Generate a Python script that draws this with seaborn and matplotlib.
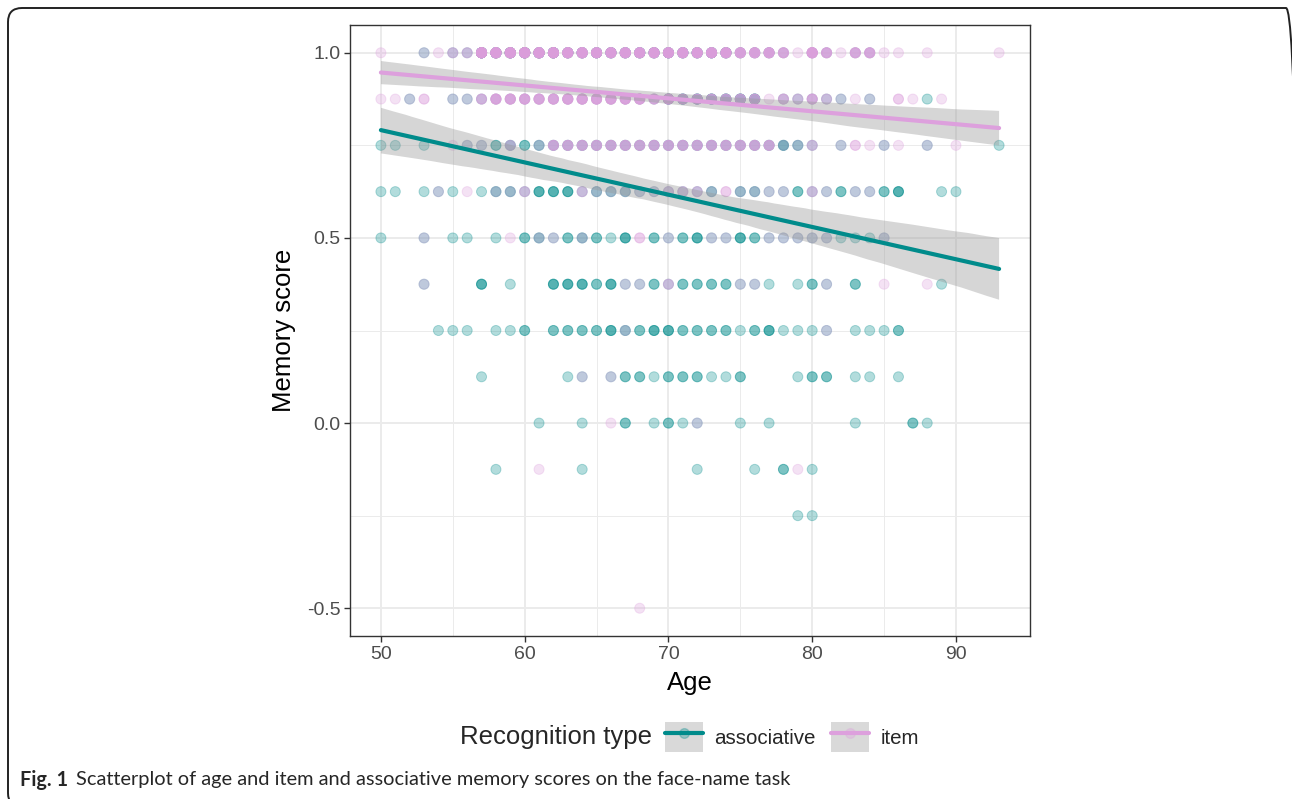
import numpy as np
import pandas as pd
import seaborn as sns
import matplotlib.pyplot as plt
from matplotlib.patches import Rectangle, FancyBboxPatch
from matplotlib.lines import Line2D
from matplotlib.legend_handler import HandlerTuple

# memory scores come in steps of 1/8, one row of ages per score level
levels = [1.0, 0.875, 0.75, 0.625, 0.5, 0.375, 0.25, 0.125, 0.0, -0.125, -0.25, -0.5]

# associative recognition: ages per level and how many dots sit on each spot
# (many of the high scores are hidden under the item dots)
assoc_ages = [
    [53, 55, 56, 57, 58, 59, 60, 61, 62, 63, 64, 65, 66, 67, 68, 69, 70, 71, 72, 73, 74, 75, 76, 77, 78, 80,
     81, 83, 84],
    [52, 55, 56, 57, 58, 59, 60, 61, 62, 63, 64, 65, 66, 67, 68, 69, 70, 71, 72, 73, 74, 75, 76, 78, 79, 80,
     81, 82, 84, 88],
    [50, 51, 53, 56, 57, 58, 59, 60, 61, 62, 63, 64, 65, 66, 67, 68, 69, 70, 71, 72, 73, 74, 75, 76, 77, 78,
     79, 80, 82, 85, 88, 93],
    [50, 51, 53, 54, 55, 57, 58, 59, 60, 61, 62, 63, 64, 65, 66, 67, 68, 69, 70, 71, 72, 73, 75, 76, 77, 78,
     79, 80, 81, 82, 83, 84, 85, 86, 89, 90],
    [50, 53, 55, 56, 58, 60, 61, 62, 63, 64, 65, 66, 67, 69, 70, 71, 72, 73, 74, 75, 76, 77, 78, 79, 80, 81,
     82, 83, 84, 85],
    [53, 57, 59, 62, 63, 64, 65, 66, 67, 68, 69, 70, 71, 72, 73, 74, 75, 76, 77, 79, 80, 81, 83, 89],
    [54, 55, 56, 58, 59, 60, 62, 63, 64, 65, 66, 67, 68, 69, 70, 71, 72, 73, 74, 75, 76, 77, 78, 79, 80, 81,
     83, 84, 85, 86],
    [57, 63, 64, 66, 67, 68, 69, 70, 71, 72, 73, 74, 75, 79, 80, 81, 83, 84, 86],
    [61, 64, 67, 69, 70, 71, 72, 75, 77, 83, 87, 88],
    [58, 64, 72, 76, 78, 80],
    [79, 80],
    [],
]
assoc_n = [
    [1, 1, 1, 8, 8, 8, 8, 8, 8, 5, 5, 5, 5, 5, 5, 5, 5, 5, 5, 5, 5, 2, 2, 2, 1, 1,
     1, 1, 1],
    [1, 1, 1, 1, 1, 1, 1, 1, 1, 1, 1, 1, 1, 1, 1, 1, 4, 4, 4, 4, 4, 4, 4, 1, 1, 1,
     1, 1, 1, 1],
    [1, 1, 1, 1, 1, 2, 2, 2, 2, 2, 2, 2, 2, 2, 2, 2, 2, 2, 2, 2, 2, 2, 2, 2, 2, 3,
     2, 1, 1, 1, 1, 1],
    [1, 1, 1, 1, 1, 1, 2, 2, 1, 3, 3, 3, 1, 2, 2, 2, 1, 1, 1, 1, 1, 2, 2, 2, 1, 1,
     2, 1, 1, 2, 1, 1, 2, 3, 1, 1],
    [1, 1, 1, 1, 1, 2, 2, 1, 2, 2, 2, 1, 3, 2, 1, 2, 3, 1, 1, 3, 2, 1, 1, 1, 1, 1,
     1, 1, 1, 1],
    [1, 3, 1, 3, 3, 3, 2, 3, 1, 1, 2, 1, 2, 2, 2, 2, 1, 1, 1, 1, 2, 1, 2, 1],
    [1, 1, 1, 1, 1, 2, 2, 2, 2, 2, 3, 2, 2, 3, 3, 2, 2, 2, 2, 1, 2, 3, 1, 1, 1, 1,
     1, 1, 1, 2],
    [1, 1, 1, 1, 2, 2, 1, 2, 2, 2, 1, 1, 2, 1, 2, 2, 1, 1, 1],
    [1, 1, 2, 1, 2, 1, 1, 1, 1, 1, 2, 1],
    [1, 1, 1, 1, 2, 1],
    [1, 1],
    [],
]

# item recognition
item_ages = [
    [50, 53, 54, 55, 56, 57, 58, 59, 60, 61, 62, 63, 64, 65, 66, 67, 68, 69, 70, 71, 72, 73, 74, 75, 76, 77,
     78, 79, 80, 81, 82, 83, 84, 85, 86, 88, 93],
    [50, 51, 52, 53, 55, 56, 57, 58, 59, 60, 61, 62, 63, 64, 65, 66, 67, 68, 69, 70, 71, 72, 73, 74, 75, 76,
     77, 78, 79, 80, 81, 82, 83, 84, 86, 87, 89],
    [55, 56, 57, 59, 61, 62, 63, 64, 65, 66, 67, 68, 69, 70, 71, 72, 73, 74, 75, 76, 77, 78, 79, 80, 82, 83,
     84, 85, 86, 88, 90],
    [54, 56, 58, 59, 60, 64, 65, 66, 67, 68, 69, 70, 71, 72, 73, 74, 75, 76, 77, 78, 80, 81, 83, 84],
    [53, 59, 61, 62, 64, 68, 70, 73, 74, 77, 78, 79, 80, 81, 85],
    [53, 67, 68, 70, 75, 76, 81, 85, 88],
    [67, 81],
    [64, 66],
    [66, 72],
    [61, 79],
    [],
    [68],
]
item_n = [
    [1, 1, 1, 2, 2, 20, 20, 20, 20, 20, 20, 16, 16, 12, 12, 12, 12, 12, 12, 12, 12, 12, 12, 8, 8, 8,
     5, 1, 12, 5, 1, 5, 5, 1, 1, 1, 1],
    [1, 1, 1, 2, 1, 1, 3, 6, 6, 6, 6, 6, 7, 7, 7, 7, 7, 7, 4, 6, 4, 4, 4, 4, 4, 4,
     1, 3, 2, 4, 2, 1, 1, 1, 2, 1, 1],
    [1, 1, 1, 2, 1, 4, 4, 4, 4, 4, 4, 4, 4, 4, 4, 4, 4, 4, 4, 4, 4, 1, 1, 2, 1, 2,
     1, 1, 1, 1, 1],
    [1, 1, 1, 1, 2, 2, 1, 1, 1, 1, 1, 2, 2, 2, 1, 2, 1, 1, 1, 1, 2, 1, 1, 1],
    [1, 1, 1, 1, 1, 2, 1, 1, 1, 1, 1, 1, 1, 1, 1],
    [1, 1, 1, 2, 1, 1, 1, 1, 1],
    [1, 1],
    [1, 1],
    [1, 1],
    [1, 1],
    [],
    [1],
]

group_names = ["associative", "item"]
group_colors = {"associative": "#008B8B", "item": "#DDA0DD"}

rows = []
for name, ages, counts in [("associative", assoc_ages, assoc_n), ("item", item_ages, item_n)]:
    for lev, a_row, n_row in zip(levels, ages, counts):
        for a, n in zip(a_row, n_row):
            rows += [(a, lev, name)] * n
df = pd.DataFrame(rows, columns=["Age", "Memory score", "Recognition type"])

sns.set_style("white")
plt.rcParams["font.family"] = ["Liberation Sans", "DejaVu Sans"]

fig = plt.figure(figsize=(12.92, 7.99), dpi=100)
ax = fig.add_axes([350 / 1292, 1 - 636 / 799, 680 / 1292, 611 / 799])

# ggplot-ish bw panel
for v in [55, 65, 75, 85]:
    ax.axvline(v, color="#EBEBEB", lw=0.7, zorder=0)
for v in [-0.25, 0.25, 0.75]:
    ax.axhline(v, color="#EBEBEB", lw=0.7, zorder=0)
for v in [50, 60, 70, 80, 90]:
    ax.axvline(v, color="#EBEBEB", lw=1.4, zorder=0)
for v in [-0.5, 0.0, 0.5, 1.0]:
    ax.axhline(v, color="#EBEBEB", lw=1.4, zorder=0)

sns.scatterplot(data=df, x="Age", y="Memory score", hue="Recognition type",
                palette=group_colors, alpha=0.3, s=52, linewidth=0.7,
                legend=False, ax=ax, zorder=2)
for col in ax.collections:
    col.set_edgecolor(col.get_facecolor())

for name in group_names:
    sub = df[df["Recognition type"] == name]
    n_before = len(ax.collections)
    sns.regplot(data=sub, x="Age", y="Memory score", scatter=False, ci=95, seed=1,
                color=group_colors[name], line_kws={"lw": 3.0, "zorder": 4}, ax=ax)
    for band in ax.collections[n_before:]:
        band.set_alpha(0.4)
        band.set_facecolor("#999999")
        band.set_edgecolor("none")
        band.set_zorder(3)

ax.set_xlim(47.85, 95.15)
ax.set_ylim(-0.575, 1.075)
ax.set_xticks([50, 60, 70, 80, 90])
ax.set_yticks([-0.5, 0.0, 0.5, 1.0])
ax.set_yticklabels(["-0.5", "0.0", "0.5", "1.0"])
ax.tick_params(axis="both", which="major", length=4, width=1.0, color="#333333",
               labelsize=14, labelcolor="#4D4D4D", pad=3, bottom=True, left=True)
for sp in ax.spines.values():
    sp.set_visible(True)
    sp.set_color("#333333")
    sp.set_linewidth(1.0)
ax.set_xlabel("Age", fontsize=18.5, color="black", labelpad=6)
ax.set_ylabel("Memory score", fontsize=18.5, color="black", labelpad=8)

# legend below the panel, title to the left of the keys
fig.text(460 / 1292, 1 - 737 / 799, "Recognition type", fontsize=18.5, ha="left", va="center")
handles = []
for name in group_names:
    box = Rectangle((0, 0), 1, 1, facecolor="#D9D9D9", edgecolor="none")
    dot = Line2D([], [], ls="none", marker="o", ms=7, color=group_colors[name], alpha=0.3)
    line = Line2D([], [], color=group_colors[name], lw=3.0)
    handles.append((box, dot, line))
fig.legend(handles, group_names, handler_map={tuple: HandlerTuple(ndivide=1)},
           loc="center left", bbox_to_anchor=(665 / 1292, 1 - 737 / 799), ncol=2,
           frameon=False, fontsize=14.8, handlelength=1.85, handleheight=1.85,
           handletextpad=0.55, columnspacing=0.75, borderpad=0, borderaxespad=0)

# figure caption
fig.text(20 / 1292, 1 - 780 / 799, "Fig. 1", fontsize=14.3, fontweight="bold",
         family=["Lato", "DejaVu Sans"], ha="left", va="center")
fig.text(76 / 1292, 1 - 780 / 799, "Scatterplot of age and item and associative memory scores on the face-name task",
         fontsize=14.4, family=["Lato", "DejaVu Sans"], ha="left", va="center")

# rounded page frame (pixel units via inches), right and bottom sides fall off the image
frame = FancyBboxPatch((0.08, -0.08), 12.92, 7.99, boxstyle="round,pad=0,rounding_size=0.14",
                       transform=fig.dpi_scale_trans, facecolor="none", edgecolor="#222222",
                       lw=1.4, clip_on=False)
fig.patches.append(frame)

fig.savefig("out.png", dpi=100)
